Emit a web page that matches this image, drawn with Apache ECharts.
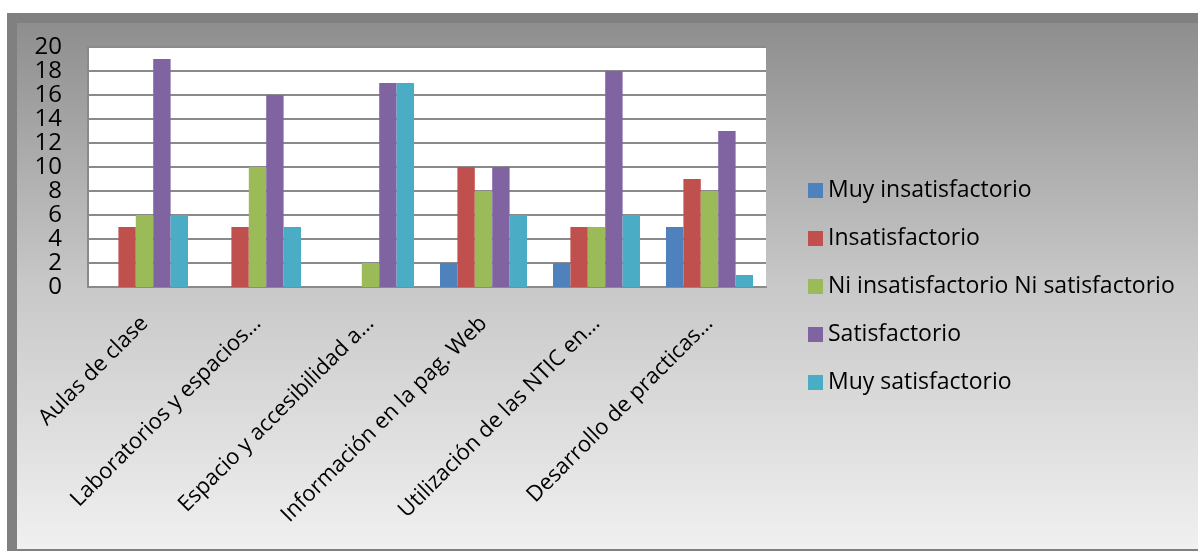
<!DOCTYPE html>
<html>
<head>
<meta charset="utf-8">
<script src="https://cdn.jsdelivr.net/npm/echarts@6/dist/echarts.min.js"></script>
<style>
html,body{margin:0;padding:0;background:#fff;}
#c{width:1198px;height:551px;}
</style>
</head>
<body>
<div id="c"></div>
<script>
const categories = ["Aulas de clase","Laboratorios y espacios…","Espacio y accesibilidad a…","Información en la pag. Web","Utilización de las NTIC en…","Desarrollo de practicas…"];
const seriesNames = ["Muy insatisfactorio","Insatisfactorio","Ni insatisfactorio Ni satisfactorio","Satisfactorio","Muy satisfactorio"];
const muyInsatisfactorio = [0,0,0,2,2,5];
const insatisfactorio = [5,5,0,10,5,9];
const niNi = [6,10,2,8,5,8];
const satisfactorio = [19,16,17,10,18,13];
const muySatisfactorio = [6,5,17,6,6,1];
const yTicks = [0,2,4,6,8,10,12,14,16,18,20];
const colors = ["#4F81BD","#C0504D","#9BBB59","#8064A2","#4BACC6"];
const allValues = [muyInsatisfactorio,insatisfactorio,niNi,satisfactorio,muySatisfactorio];

const FONT = "'Open Sans', sans-serif";
const chart = echarts.init(document.getElementById('c'));
chart.setOption({
  backgroundColor:'#ffffff',
  animation:false,
  graphic:[
    {type:'rect', z:-10, shape:{x:7,y:13,width:1191,height:538}, style:{fill:'#808080'}},
    {type:'rect', z:-9, shape:{x:17,y:23,width:1181,height:526},
      style:{fill:new echarts.graphic.LinearGradient(0,0,0,1,[{offset:0,color:'#8e8e8e'},{offset:0.5,color:'#c8c8c8'},{offset:1,color:'#f0f0f0'}])}}
  ],
  textStyle:{fontFamily:FONT},
  grid:{left:88,right:432,top:47,bottom:264,show:true,backgroundColor:'#ffffff',borderWidth:0},
  legend:{
    orient:'vertical', left:803, top:174,
    itemWidth:15, itemHeight:15, itemGap:25,
    icon:'rect',
    textStyle:{fontSize:23,color:'#000',fontFamily:FONT},
    data:seriesNames
  },
  xAxis:{
    type:'category', data:categories,
    axisLine:{show:true,lineStyle:{color:'#8a8a8a',width:2}},
    axisTick:{show:false},
    axisLabel:{rotate:45,fontSize:22,color:'#000',margin:33,interval:0,fontFamily:FONT}
  },
  yAxis:{
    type:'value', min:0, max:20, interval:2,
    axisLine:{show:true,lineStyle:{color:'#8a8a8a',width:2}},
    axisTick:{show:false},
    splitLine:{show:true,lineStyle:{color:'#8a8a8a',width:2}},
    axisLabel:{fontSize:24,color:'#000',margin:26,fontFamily:FONT,
      formatter:function(v){return yTicks.indexOf(v)>=0?String(v):'';}}
  },
  series: seriesNames.map((n,i)=>({
    name:n, type:'bar', data:allValues[i],
    barGap:'0%', barCategoryGap:'23%',
    itemStyle:{color:colors[i]}
  }))
});
</script>
</body>
</html>
